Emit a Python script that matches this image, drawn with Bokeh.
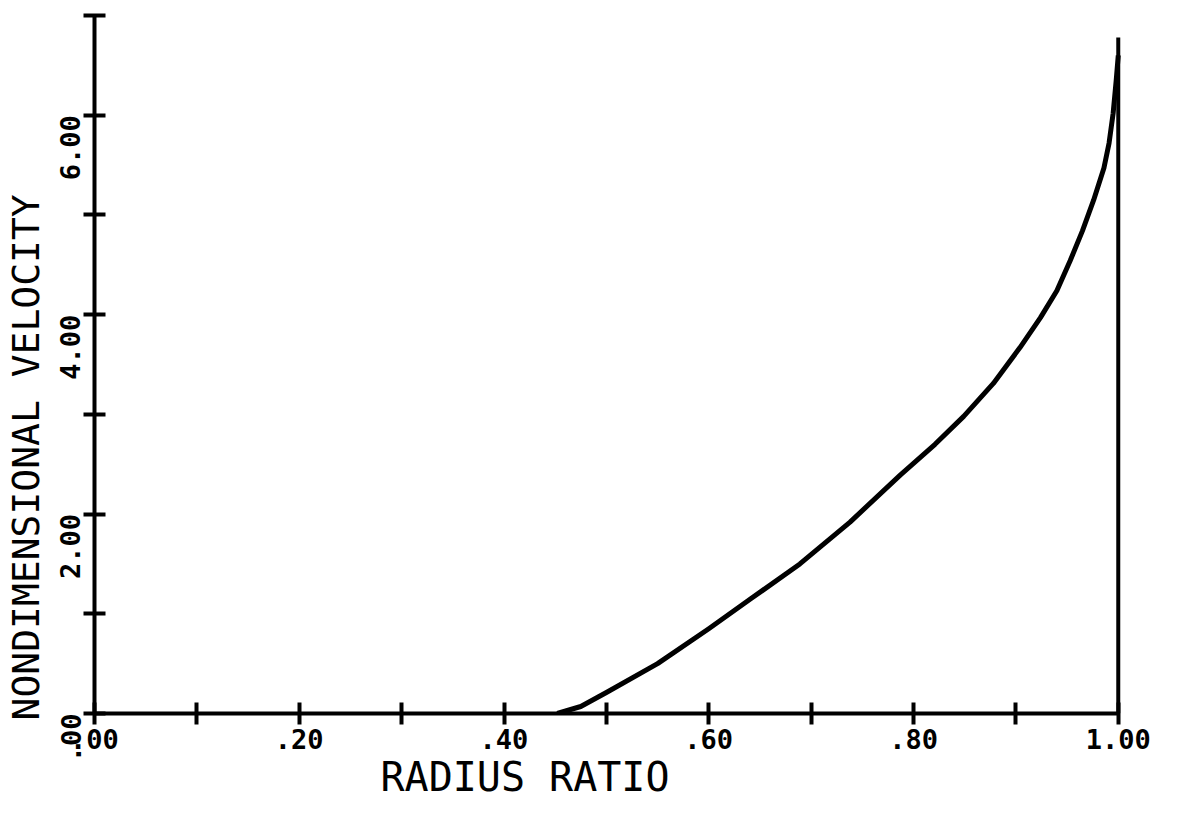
import math
from bokeh.plotting import figure
from bokeh.models import Range1d, FixedTicker, CustomJSTickFormatter, Title
from bokeh.embed import file_html
from bokeh.resources import INLINE

# Data
radius_ratio = [0.452, 0.475, 0.50, 0.55, 0.60, 0.641, 0.689, 0.738, 0.787, 0.821,
                0.849, 0.878, 0.904, 0.924, 0.940, 0.953, 0.965, 0.976, 0.986,
                0.991, 0.995, 0.998, 1.0]
velocity = [0.0, 0.07, 0.21, 0.50, 0.85, 1.15, 1.50, 1.92, 2.39, 2.70,
            2.98, 3.31, 3.67, 3.97, 4.24, 4.54, 4.84, 5.15, 5.47,
            5.72, 6.02, 6.35, 6.60]
wall_x = [1.0, 1.0]
wall_y = [0.0, 6.78]

x_ticks = [0.0, 0.1, 0.2, 0.3, 0.4, 0.5, 0.6, 0.7, 0.8, 0.9, 1.0]
x_labels = [".00", "", ".20", "", ".40", "", ".60", "", ".80", "", "1.00"]
y_ticks = [0, 1, 2, 3, 4, 5, 6, 7]
y_labels = [".00", "", "2.00", "", "4.00", "", "6.00", ""]

FONT = "DejaVu Sans Mono"

p = figure(width=1177, height=819, output_backend="svg", toolbar_location=None,
           x_range=Range1d(0, 1.01), y_range=Range1d(0, 7),
           min_border_left=94, min_border_right=49, min_border_top=15,
           min_border_bottom=106)
p.outline_line_color = None
p.grid.visible = False
p.background_fill_color = "white"
p.border_fill_color = "white"

fmt_code = """
const i = tvals.findIndex(t => Math.abs(t - tick) < 1e-6);
return i >= 0 ? tlabels[i] : '';
"""
p.xaxis.ticker = FixedTicker(ticks=x_ticks)
p.xaxis.formatter = CustomJSTickFormatter(args=dict(tvals=x_ticks, tlabels=x_labels), code=fmt_code)
p.xaxis.bounds = (0, 1)
p.yaxis.ticker = FixedTicker(ticks=y_ticks)
p.yaxis.formatter = CustomJSTickFormatter(args=dict(tvals=y_ticks, tlabels=y_labels), code=fmt_code)

for ax in (p.xaxis[0], p.yaxis[0]):
    ax.axis_line_width = 4
    ax.axis_line_color = "black"
    ax.major_tick_line_width = 4
    ax.major_tick_line_color = "black"
    ax.major_tick_in = 11
    ax.major_tick_out = 11
    ax.minor_tick_line_color = None
    ax.major_label_text_font = FONT
    ax.major_label_text_font_style = "bold"
    ax.major_label_text_font_size = "27px"
    ax.major_label_text_color = "black"
    ax.axis_label = None

p.xaxis.major_label_standoff = 4
p.yaxis.major_label_standoff = 13
p.yaxis.major_label_orientation = math.pi / 2

p.line(radius_ratio, velocity, line_width=5, line_color="black", line_join="round")
p.line(wall_x, wall_y, line_width=4, line_color="black")

p.add_layout(Title(text="RADIUS RATIO", align="left", offset=286, standoff=0,
                   text_font=FONT, text_font_size="40px", text_font_style="normal",
                   text_color="black"), "below")
p.add_layout(Title(text="NONDIMENSIONAL VELOCITY", align="left", offset=-7, standoff=0,
                   text_font=FONT, text_font_size="38px", text_font_style="normal",
                   text_color="black"), "left")

open("out.html", "w").write(file_html(p, INLINE))
